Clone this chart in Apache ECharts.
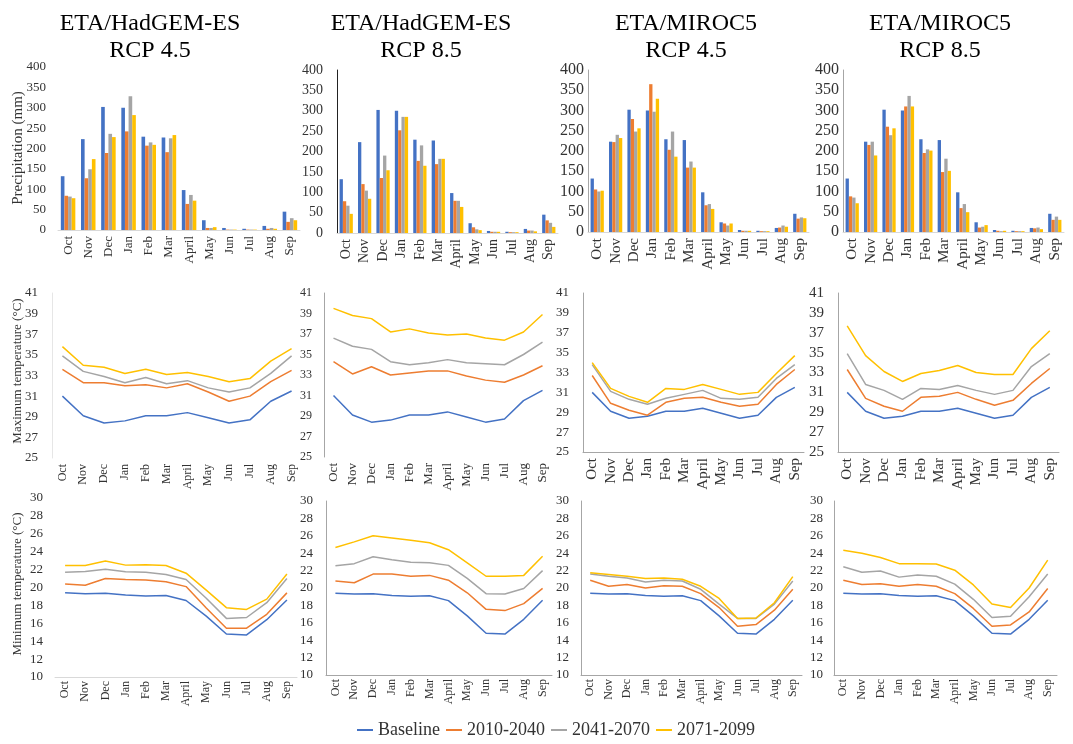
<!DOCTYPE html>
<html><head><meta charset="utf-8">
<script src="https://cdn.jsdelivr.net/npm/echarts@6/dist/echarts.min.js"></script>
<style>html,body{margin:0;padding:0;background:#fff}#c{width:1073px;height:744px}</style>
</head><body><div id="c"></div>
<script>
// ---------- DATA ----------
const months = ['Oct','Nov','Dec','Jan','Feb','Mar','April','May','Jun','Jul','Aug','Sep'];
const periods = ['Baseline','2010-2040','2041-2070','2071-2099'];
const columnTitles = ['ETA/HadGEM-ES\nRCP 4.5','ETA/HadGEM-ES\nRCP 8.5','ETA/MIROC5\nRCP 4.5','ETA/MIROC5\nRCP 8.5'];
const rowNames = ['Precipitation (mm)','Maximum temperature (°C)','Minimum temperature (°C)'];

// Precipitation (mm)
const precipBaseline   = [132,223,302,300,229,227,98,24,5,3,10,45];
const precipHad45_2010 = [84,127,189,242,207,191,64,5,1,1,3,20];
const precipHad45_2041 = [82,149,236,328,215,225,86,5,1,1,5,29];
const precipHad45_2071 = [78,174,228,282,209,233,72,7,1,1,3,24];
const precipHad85_2010 = [78,120,135,252,177,169,79,14,3,2,6,31];
const precipHad85_2041 = [67,104,190,285,215,182,79,9,3,2,6,25];
const precipHad85_2071 = [47,84,154,285,165,182,64,7,3,2,4,15];
const precipMir45_2010 = [105,222,279,365,203,159,66,21,3,2,11,33];
const precipMir45_2041 = [100,240,248,297,248,174,69,16,3,2,16,36];
const precipMir45_2071 = [102,232,256,329,186,159,57,21,3,2,13,34];
const precipMir85_2010 = [88,215,260,310,195,148,59,11,3,2,9,30];
const precipMir85_2041 = [85,223,239,336,204,181,69,13,2,2,11,38];
const precipMir85_2071 = [71,189,256,310,201,151,49,17,3,2,7,30];

// Maximum temperature (°C)
const tmaxBaseline   = [31.0,29.1,28.4,28.6,29.1,29.1,29.4,28.9,28.4,28.7,30.5,31.5];
const tmaxHad45_2010 = [33.6,32.3,32.3,32.0,32.1,31.8,32.2,31.4,30.5,31.0,32.4,33.5];
const tmaxHad45_2041 = [34.9,33.4,32.9,32.3,32.8,32.2,32.5,31.8,31.4,31.8,33.2,34.9];
const tmaxHad45_2071 = [35.8,34.0,33.8,33.2,33.6,33.1,33.3,32.9,32.4,32.7,34.4,35.6];
const tmaxHad85_2010 = [34.3,33.1,33.8,33.0,33.2,33.4,33.4,32.9,32.5,32.3,33.0,33.9];
const tmaxHad85_2041 = [36.6,35.8,35.5,34.3,34.0,34.2,34.5,34.2,34.1,34.0,35.0,36.2];
const tmaxHad85_2071 = [39.5,38.8,38.5,37.2,37.5,37.1,36.9,37.0,36.6,36.4,37.2,38.9];
const tmaxMir45_2010 = [32.7,29.9,29.2,28.7,30.0,30.4,30.5,30.0,29.6,29.8,31.8,33.3];
const tmaxMir45_2041 = [33.8,31.1,30.3,29.8,30.4,30.8,31.2,30.4,30.3,30.5,32.4,33.8];
const tmaxMir45_2071 = [34.0,31.4,30.6,30.0,31.4,31.3,31.8,31.3,30.8,31.0,32.9,34.7];
const tmaxMir85_2010 = [33.3,30.4,29.6,29.1,30.5,30.6,31.0,30.3,29.7,30.2,31.9,33.4];
const tmaxMir85_2041 = [34.9,31.8,31.2,30.3,31.4,31.3,31.7,31.2,30.8,31.2,33.6,34.9];
const tmaxMir85_2071 = [37.7,34.7,33.1,32.1,32.9,33.2,33.7,33.0,32.8,32.8,35.4,37.2];

// Minimum temperature (°C)
const tminBaseline   = [19.4,19.3,19.35,19.15,19.05,19.1,18.55,16.8,14.8,14.7,16.4,18.6];
const tminHad45_2010 = [20.4,20.25,21.0,20.9,20.85,20.65,20.1,17.7,15.45,15.45,17.0,19.4];
const tminHad45_2041 = [21.7,21.8,22.05,21.75,21.7,21.45,20.9,18.8,16.55,16.65,18.3,21.0];
const tminHad45_2071 = [22.45,22.45,22.95,22.5,22.55,22.45,21.6,19.7,17.75,17.55,18.7,21.5];
const tminHad85_2010 = [20.8,20.6,21.6,21.6,21.35,21.45,20.9,19.45,17.55,17.4,18.2,19.95];
const tminHad85_2041 = [22.55,22.8,23.6,23.25,22.95,22.9,22.6,21.1,19.35,19.3,19.95,22.0];
const tminHad85_2071 = [24.65,25.3,26.0,25.75,25.5,25.2,24.4,22.9,21.35,21.35,21.45,23.65];
const tminMir45_2010 = [20.9,20.2,20.4,20.0,20.25,20.2,19.35,17.75,15.6,15.8,17.45,19.85];
const tminMir45_2041 = [21.6,21.35,21.15,20.7,20.9,20.8,19.85,18.15,16.5,16.5,18.15,20.8];
const tminMir45_2071 = [21.75,21.55,21.35,21.1,21.15,21.0,20.2,18.8,16.5,16.55,18.3,21.3];
const tminMir85_2010 = [20.9,20.4,20.5,20.2,20.4,20.2,19.35,17.65,15.6,15.75,17.25,19.95];
const tminMir85_2041 = [22.45,21.8,21.95,21.25,21.5,21.35,20.45,18.7,16.6,16.75,19.0,21.6];
const tminMir85_2071 = [24.35,24.0,23.5,22.8,22.8,22.75,22.05,20.35,18.15,17.75,20.0,23.2];

// ---------- ASSEMBLY ----------
const panelData = [
  [ [precipBaseline,precipHad45_2010,precipHad45_2041,precipHad45_2071],
    [precipBaseline,precipHad85_2010,precipHad85_2041,precipHad85_2071],
    [precipBaseline,precipMir45_2010,precipMir45_2041,precipMir45_2071],
    [precipBaseline,precipMir85_2010,precipMir85_2041,precipMir85_2071] ],
  [ [tmaxBaseline,tmaxHad45_2010,tmaxHad45_2041,tmaxHad45_2071],
    [tmaxBaseline,tmaxHad85_2010,tmaxHad85_2041,tmaxHad85_2071],
    [tmaxBaseline,tmaxMir45_2010,tmaxMir45_2041,tmaxMir45_2071],
    [tmaxBaseline,tmaxMir85_2010,tmaxMir85_2041,tmaxMir85_2071] ],
  [ [tminBaseline,tminHad45_2010,tminHad45_2041,tminHad45_2071],
    [tminBaseline,tminHad85_2010,tminHad85_2041,tminHad85_2071],
    [tminBaseline,tminMir45_2010,tminMir45_2041,tminMir45_2071],
    [tminBaseline,tminMir85_2010,tminMir85_2041,tminMir85_2071] ]
];

const FONT = '"Liberation Serif","Times New Roman",serif';
const colors = ['#4472C4','#ED7D31','#A5A5A5','#FFC000'];
const TXT = '#333';

// layout: [left, top, width, height]
const layout = [
  [[58,67,242,163],[337,70,221,163],[588,70,221,162],[843,70,221,162]],
  [[52,293,250,165],[324,293,228,164],[583,293,221,159],[838,293,221,159]],
  [[55,498,242,179],[326,501,226,174],[581,501,221,174],[834,501,223,174]]
];
const yScale = [ {min:0,max:400,interval:50}, {min:25,max:41,interval:2}, {min:10,max:30,interval:2} ];
const yFont = [[13,14,16,16],[13,12,13,15],[13,13,13,13]];
const xFont = [[13,14,15,15],[12,13,15,15],[12,12,12,12]];
const yMargin = [[12,14,4,4],[14,12,14,14],[12,13,12,11]];
const xMargin = [6,6,4];
// axis line visibility/colour per panel: [yLine, xLine]
const lines = [
  [[null,'#d9d9d9'],['#222','#d9d9d9'],['#a6a6a6','#d9d9d9'],['#a6a6a6','#d9d9d9']],
  [['#e6e6e6',null],['#a6a6a6',null],['#a6a6a6','#a6a6a6'],['#a6a6a6','#a6a6a6']],
  [[null,'#d9d9d9'],['#a6a6a6','#a6a6a6'],['#a6a6a6','#a6a6a6'],['#a6a6a6','#a6a6a6']]
];

const grid=[], xAxis=[], yAxis=[], series=[];
for (let r=0;r<3;r++){
  for (let c=0;c<4;c++){
    const idx = r*4+c;
    const [l,t,w,h] = layout[r][c];
    grid.push({left:l, top:t, width:w, height:h, containLabel:false});
    const [yl,xl] = lines[r][c];
    xAxis.push({type:'category', gridIndex:idx, data:months, boundaryGap:true,
      axisTick:{show:false},
      axisLine:{show:!!xl, lineStyle:{color:xl||'#fff', width:1}},
      axisLabel:{rotate:90, interval:0, fontSize:xFont[r][c], fontFamily:FONT, color:TXT, margin:xMargin[r]}});
    yAxis.push({type:'value', gridIndex:idx, min:yScale[r].min, max:yScale[r].max, interval:yScale[r].interval,
      splitLine:{show:false}, axisTick:{show:false},
      axisLine:{show:!!yl, lineStyle:{color:yl||'#fff', width:1}},
      axisLabel:{fontSize:yFont[r][c], fontFamily:FONT, color:TXT, margin:yMargin[r][c]}});
    const sets = panelData[r][c];
    for (let k=0;k<4;k++){
      if (r===0){
        series.push({type:'bar', name:periods[k], xAxisIndex:idx, yAxisIndex:idx, data:sets[k],
          barGap:'0%', barCategoryGap:'28%', itemStyle:{color:colors[k]}, animation:false});
      } else {
        series.push({type:'line', name:periods[k], xAxisIndex:idx, yAxisIndex:idx, data:sets[k],
          showSymbol:false, symbol:'none', lineStyle:{color:colors[k], width:1.5}, itemStyle:{color:colors[k]}, animation:false});
      }
    }
  }
}

const titleCenters = [145,416,681,935];
const title = columnTitles.map((t,i)=>({text:t, left:titleCenters[i], top:5, textAlign:'center',
  textStyle:{fontSize:24, fontWeight:'normal', fontFamily:FONT, color:'#000', lineHeight:27}}));

const nameY = [148,371,584];
const nameSize = [15,13,13];
const graphic = rowNames.map((n,i)=>({type:'text', x:18, y:nameY[i], rotation:Math.PI/2,
  style:{text:n, fontSize:nameSize[i], fontFamily:FONT, fill:TXT, textAlign:'center', textVerticalAlign:'middle'}}));

const option = {
  animation:false,
  title, grid, xAxis, yAxis, series, graphic,
  legend:{data:periods.map(p=>({name:p, icon:'rect'})), left:352, top:716, itemWidth:16, itemHeight:2, itemGap:6,
    textStyle:{fontSize:18, fontFamily:FONT, color:TXT}}
};
const chart = echarts.init(document.getElementById('c'), null, {renderer:'canvas'});
chart.setOption(option);
</script></body></html>
